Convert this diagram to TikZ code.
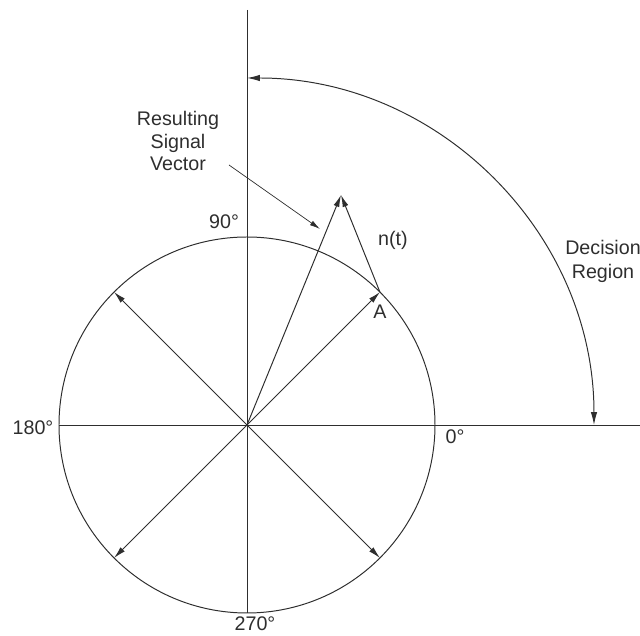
\documentclass[tikz,border=0pt]{standalone}
\usepackage{fontspec}
\setmainfont{Liberation Sans}
\usetikzlibrary{arrows.meta,calc,positioning}
\definecolor{PhaseInk}{HTML}{2E2E2E}
\tikzset{
  phase line/.style={PhaseInk,line width=0.7pt},
  phase vec/.style={phase line,-{Latex[length=3mm,width=1.5mm]}},
  phase label/.style={text=PhaseInk,inner sep=0pt,font=\fontsize{14}{16}\selectfont}
}
\begin{document}
\begin{tikzpicture}[x=0.025cm,y=0.025cm]

    \useasboundingbox (-247,-211) rectangle (393,425);

    \coordinate (O) at (0,0);
    \coordinate (top) at (0,415);
    \coordinate (bottom) at (0,-188);
    \coordinate (left) at (-188,0);
    \coordinate (right) at (393,0);
    \coordinate (A) at (45:188);
    \coordinate (R) at (94,230);

    % axes and circle
    \draw[phase line] (top) -- (bottom);
    \draw[phase line] (left) -- (right);
    \draw[phase line] (O) circle[radius=188];

    % the four phase states
    \foreach \ang/\nm in {
      45/A,
      135/B,
      225/C,
      315/D
    }{
      \draw[phase vec] (O) -- (\ang:188);
    }

    % signal plus noise
    \draw[phase vec] (O) -- (R);
    \draw[phase vec] (A) -- (R);

    \coordinate (ptr start) at (-18,260);
    \coordinate (ptr end) at (73,196);
    \draw[PhaseInk,line width=0.5pt,-{Latex[length=2.6mm,width=1.3mm]}]
      (ptr start) -- (ptr end);

    % decision region
    \coordinate (D0) at (0:347);
    \draw[phase line,{Latex[length=3.2mm,width=1.6mm]}-{Latex[length=3.2mm,width=1.6mm]}]
      (D0) arc[start angle=0,end angle=90,radius=347];

    \node[phase label] (l90) at (-23,203) {90°};
    \node[phase label] (l180) at (-214,-3) {180°};
    \node[phase label] (l0) at (208,-12) {0°};
    \node[phase label] (l270) at (8,-199) {270°};
    \node[phase label] (lA) at (133,113) {A};
    \node[phase label] (lnt) at (146,185) {n(t)};

    \node[
      phase label,
      align=center,
      font=\fontsize{14}{16}\selectfont
    ]
      (lres) at (-69,284)
      {Resulting\\Signal\\Vector};

    \node[
      phase label,
      align=center,
      font=\fontsize{14}{17}\selectfont
    ]
      (ldec) at (356,164)
      {Decision\\Region};

  \end{tikzpicture}
\end{document}
